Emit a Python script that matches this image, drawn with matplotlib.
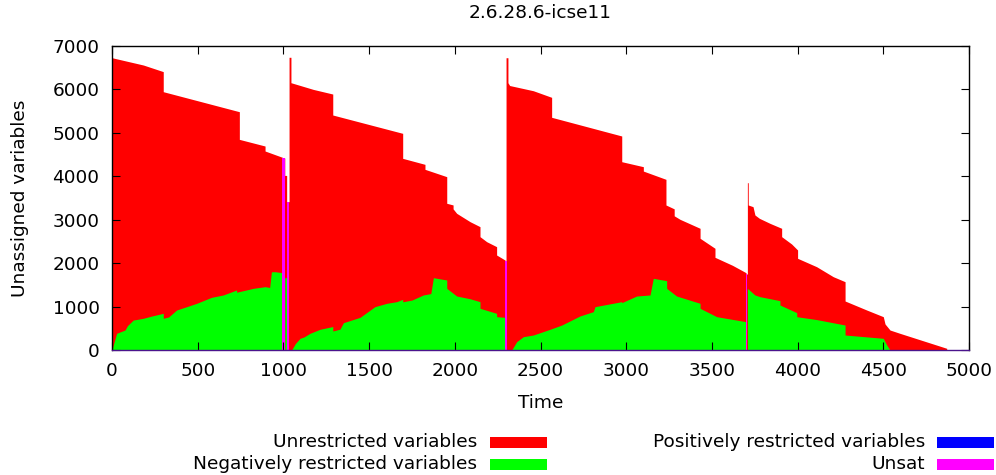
import matplotlib
matplotlib.use("Agg")
import matplotlib.pyplot as plt
from matplotlib.patches import Rectangle

# ---- data (time, number of variables) ----
# total of unassigned variables (top of the red area)
total_t = [0, 183, 299, 299, 743, 743, 893, 893, 994,
           994, 1008, 1008, 1019, 1019, 1033, 1033, 1044, 1044,
           1175, 1288, 1288, 1696, 1696, 1826, 1826, 1953, 1953,
           1990, 1990, 2011, 2089, 2147, 2147, 2186, 2244, 2244, 2293,
           2293, 2299, 2299, 2310, 2310, 2320, 2458, 2565, 2565, 2974, 2974,
           3100, 3100, 3232, 3232, 3280, 3280, 3314, 3431, 3431, 3518, 3518,
           3620, 3699,
           3699, 3707, 3707, 3712, 3712, 3740, 3751, 3777, 3839, 3907, 3907,
           3965, 4000, 4000, 4111, 4208, 4277, 4277, 4403, 4500, 4510, 4539,
           4597, 4870, 4870]
total_v = [6730, 6562, 6410, 5948, 5487, 4850, 4697, 4582, 4437,
           4420, 4420, 4020, 4020, 3415, 3415, 6740, 6740, 6155,
           6000, 5894, 5411, 4989, 4413, 4275, 4160, 3991, 3378,
           3340, 3250, 3147, 2955, 2840, 2610, 2494, 2379, 2187, 2072,
           2060, 2060, 6730, 6730, 6155, 6090, 5970, 5818, 5358, 4928, 4336,
           4221, 4120, 3930, 3339, 3250, 3090, 3009, 2802, 2572, 2342, 2134,
           1950, 1780,
           1750, 1750, 3852, 3852, 3339, 3300, 3109, 3032, 2916, 2802, 2610,
           2441, 2303, 2111, 1918, 1688, 1573, 1128, 921, 767, 600, 460,
           384, 39, 0]

# negatively restricted variables (top of the green area)
neg_t = [0, 10, 27, 76, 90, 124, 140, 183, 230, 299, 299, 330, 377, 430,
         494, 581, 649, 727, 727, 825, 893, 920, 930, 951, 994,
         994, 1008, 1008, 1019, 1019,
         1048, 1070, 1097, 1120, 1155, 1213, 1288, 1288, 1330, 1350, 1447,
         1534, 1603, 1661, 1696, 1696, 1750, 1816, 1860, 1875, 1953, 1953,
         2011, 2089, 2147, 2147, 2244, 2244, 2293, 2293,
         2332, 2361, 2400, 2458, 2555, 2624, 2730, 2808, 2818, 2974, 2974,
         3061, 3139, 3158, 3236, 3236, 3294, 3431, 3431, 3528, 3699, 3699,
         3707, 3707, 3751, 3780, 3897, 3897, 3995, 3995, 4112, 4277, 4277,
         4500, 4520, 4539]
neg_v = [0, 150, 384, 460, 560, 690, 700, 730, 780, 844, 730, 760, 921, 990,
         1075, 1213, 1267, 1382, 1330, 1420, 1458, 1440, 1800, 1803, 1780,
         0, 0, 1665, 1665, 0,
         0, 150, 269, 300, 384, 476, 540, 437, 480, 629, 752,
         998, 1075, 1113, 1167, 1110, 1150, 1267, 1300, 1665, 1612, 1420,
         1243, 1180, 1113, 960, 844, 767, 752, 0,
         0, 192, 307, 345, 476, 575, 783, 883, 998, 1113, 1090,
         1243, 1267, 1650, 1597, 1420, 1243, 1075, 960, 767, 652, 0,
         0, 1420, 1267, 1228, 1136, 1036, 860, 767, 700, 575, 345,
         269, 115, 0]

# unsat spikes at the restarts: (start, end, height)
unsat_start = [994, 1019, 2293, 3699]
unsat_end = [1008, 1033, 2303, 3707]
unsat_height = [4420, 3415, 2060, 1750]

x_ticks = list(range(0, 5001, 500))
y_ticks = list(range(0, 7001, 1000))

legend_labels = ["Unrestricted variables", "Negatively restricted variables",
                 "Positively restricted variables", "Unsat"]
legend_colors = ["#ff0000", "#00ff00", "#0000ff", "#ff00ff"]

FS = 13.3


def legend_entry(fig, x_text, x_box, y, label, color):
    # gnuplot style key: text right aligned, colour box on its right
    W, H = fig.get_size_inches() * fig.dpi
    fig.text(x_text / W, 1 - y / H, label, ha="right", va="center",
             fontsize=FS)
    fig.patches.append(Rectangle((x_box / W, 1 - (y + 6) / H), 57 / W,
                                 11.5 / H, transform=fig.transFigure,
                                 facecolor=color, edgecolor="none"))


def plot():
    fig = plt.figure(figsize=(9.96, 4.75), dpi=100)
    ax = fig.add_axes([112 / 996, 1 - 350 / 475, 857 / 996, 304 / 475])

    ax.fill_between(total_t, 0, total_v, color=legend_colors[0], lw=0)
    ax.fill_between(neg_t, 0, neg_v, color=legend_colors[1], lw=0)
    for s, e, h in zip(unsat_start, unsat_end, unsat_height):
        ax.fill_between([s, e], 0, [h, h], color=legend_colors[3], lw=0)

    ax.set_xlim(0, 5000)
    ax.set_ylim(0, 7000)
    ax.set_xticks(x_ticks)
    ax.set_yticks(y_ticks)
    ax.tick_params(direction="in", top=True, right=True, length=6,
                   labelsize=FS)
    ax.tick_params(axis="y", pad=9)
    ax.tick_params(axis="x", pad=9)
    for sp in ax.spines.values():
        sp.set_linewidth(1)
    ax.spines["bottom"].set_color("#4a148c")
    ax.set_xlabel("Time", fontsize=FS, labelpad=10)
    ax.set_ylabel("Unassigned variables", fontsize=FS, labelpad=17)
    ax.set_title("2.6.28.6-icse11", fontsize=FS, pad=20)

    legend_entry(fig, 477, 490, 442, legend_labels[0], legend_colors[0])
    legend_entry(fig, 477, 490, 464, legend_labels[1], legend_colors[1])
    legend_entry(fig, 925, 937, 442, legend_labels[2], legend_colors[2])
    legend_entry(fig, 925, 937, 464, legend_labels[3], legend_colors[3])

    fig.savefig("out.png", dpi=100)


if __name__ == '__main__':
    plot()
